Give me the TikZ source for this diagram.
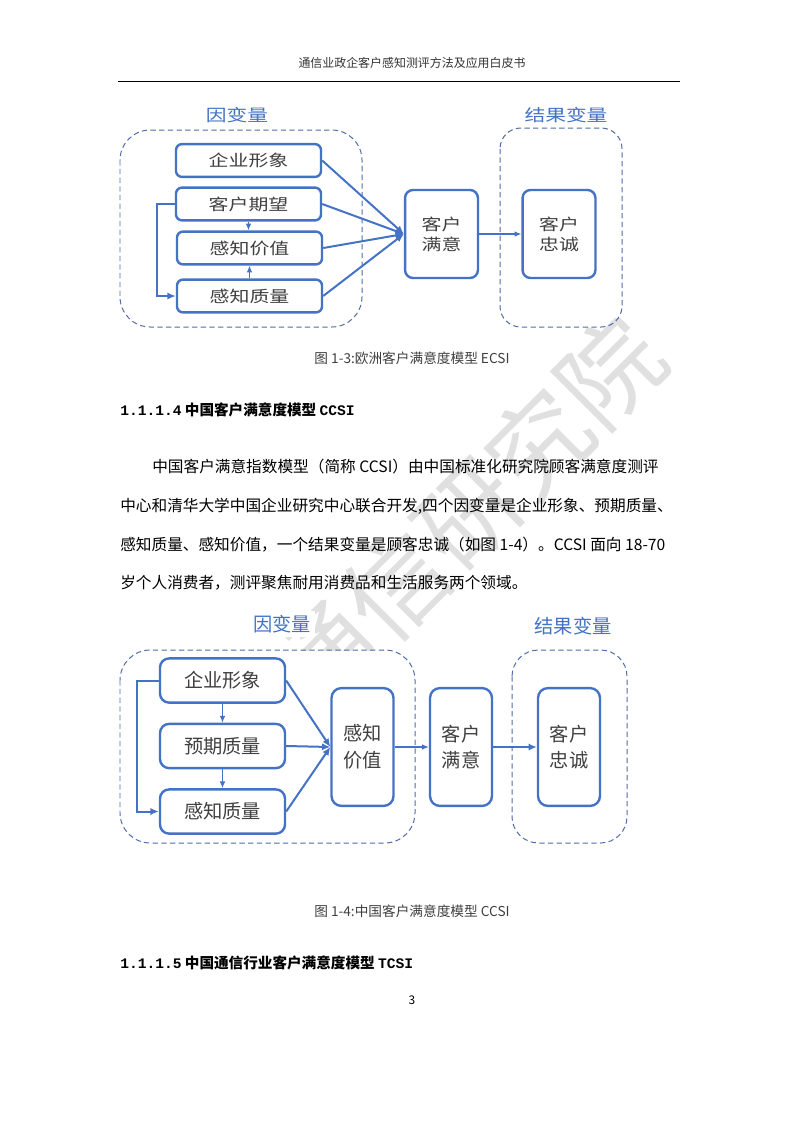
\documentclass[tikz,border=0pt]{standalone}
\usepackage{fontspec}
\setmainfont{Noto Sans CJK SC}
\setmonofont{Liberation Mono}
\newfontfamily\widecjk[FakeStretch=1.25]{Noto Sans CJK SC}
\usetikzlibrary{arrows.meta,positioning,calc}
\definecolor{boxblue}{RGB}{68,114,196}
\definecolor{dashblue}{RGB}{82,108,168}
\XeTeXlinebreaklocale "zh"
\XeTeXlinebreakskip=0pt plus 2pt

\begin{document}
\begin{tikzpicture}[x=0.2648mm,y=-0.2648mm,
  every node/.style={inner sep=0pt},
  fac/.style={draw=boxblue,line width=1.8pt,fill=white,text=black!75,align=center},
  eca/.style={fac,rounded corners=1.6mm,minimum width=38.4mm,minimum height=8.7mm,font=\widecjk\fontsize{12}{14}\selectfont},
  ecb/.style={fac,rounded corners=2.1mm,minimum width=19.3mm,minimum height=23.3mm,font=\widecjk\fontsize{12}{15}\selectfont},
  cca/.style={fac,rounded corners=2.4mm,minimum width=33.1mm,minimum height=11.7mm,font=\fontsize{14.5}{17}\selectfont},
  ccb/.style={fac,rounded corners=2.6mm,minimum width=16.4mm,minimum height=31.2mm,font=\fontsize{14.5}{20}\selectfont},
  grp/.style={draw=dashblue,line width=0.75pt,dash pattern=on 1.4mm off 0.9mm},
  lnk/.style={draw=boxblue,line width=1.5pt,-{Latex[length=2.2mm,width=1.9mm]}},
  tlnk/.style={draw=boxblue,line width=0.9pt,-{Latex[length=1.8mm,width=1.5mm]}},
  ttl/.style={text=boxblue,fill=white,inner sep=3pt},
  bodyln/.style={anchor=west,font=\fontsize{11.8}{14}\selectfont,align=justify},
  sechd/.style={anchor=west,font=\bfseries\fontsize{11}{13}\selectfont},
  capt/.style={text=black!75,font=\fontsize{10.3}{12}\selectfont}]
\path[use as bounding box,fill=white] (0,0) rectangle (793,1122);

% watermark
\node[anchor=east,rotate=45,text=black!12,font=\fontsize{76}{78}\selectfont] (wm) at (646,336) {通信研究院};

% page header
\node[font=\fontsize{9}{11}\selectfont,text=black!80] (hd) at (412,63) {通信业政企客户感知测评方法及应用白皮书};
\draw[line width=0.6pt] (118,81) -- (680,81);

% ECSI
\begin{scope}
\fill[white] (112,98) rectangle (632,318);
\draw[grp,rounded corners=8mm] (120,130) rectangle (362,327);
\draw[grp,rounded corners=5.5mm] (500,128) rectangle (622,327);
\node[ttl,font=\widecjk\fontsize{12.5}{14}\selectfont] (iv1) at (237,115) {因变量};
\node[ttl,font=\widecjk\fontsize{12.5}{14}\selectfont] (ov1) at (566,115) {结果变量};
\node[eca] (qx1) at (248.5,160.5) {企业形象};
\node[eca] (kq1) at (248.5,204) {客户期望};
\node[eca] (jz1) at (249.5,248) {感知价值};
\node[eca] (zl1) at (249.5,296) {感知质量};
\node[ecb] (my1) at (441.5,234) {客户\\满意};
\node[ecb] (zc1) at (559,234) {客户\\忠诚};
\draw[tlnk] (kq1.south) -- (kq1.south |- jz1.north);
\draw[tlnk] (zl1.north) -- (zl1.north |- jz1.south);
\draw[lnk] (kq1.west) -- ++(-18,0) |- (zl1.west);
\foreach \n in {qx1,kq1,jz1,zl1}
  \draw[lnk] (\n.east) -- (my1.west);
\draw[tlnk] (my1) -- (zc1);
\end{scope}
\node[capt] (c3) at (412,358) {图 1-3:欧洲客户满意度模型 ECSI};

% text
\node[sechd] (h4) at (120,410) {{\ttfamily 1.1.1.4} 中国客户满意度模型 {\ttfamily CCSI}};
\node[bodyln,text width=141.9mm] (p1) at (152,467) {\noindent\parfillskip=0pt 中国客户满意指数模型（简称 CCSI）由中国标准化研究院顾客满意度测评};
\node[bodyln,text width=150.4mm] (p2) at (120,506) {\noindent\parfillskip=0pt 中心和清华大学中国企业研究中心联合开发,四个因变量是企业形象、预期质量、};
\node[bodyln,text width=150.4mm] (p3) at (120,545) {\noindent\parfillskip=0pt 感知质量、感知价值，一个结果变量是顾客忠诚（如图 1-4）。CCSI 面向 18-70};
\node[anchor=west,font=\fontsize{11.8}{14}\selectfont] (p4) at (120,583) {岁个人消费者，测评聚焦耐用消费品和生活服务两个领域。};

% CCSI
\begin{scope}
\fill[white] (112,651) rectangle (640,850);
\draw[grp,rounded corners=8mm] (120,650) rectangle (415,843);
\draw[grp,rounded corners=7mm] (512,650) rectangle (627,843);
\node[ttl,font=\fontsize{14.5}{17}\selectfont] (iv2) at (282,624) {因变量};
\node[ttl,font=\fontsize{14.5}{17}\selectfont] (ov2) at (573,626) {结果变量};
\node[cca] (qx2) at (222.5,680.5) {企业形象};
\node[cca] (yq2) at (222.5,746) {预期质量};
\node[cca] (zl2) at (222.5,811.5) {感知质量};
\node[ccb] (jz2) at (362.5,747) {感知\\价值};
\node[ccb] (my2) at (461,747) {客户\\满意};
\node[ccb] (zc2) at (569,747) {客户\\忠诚};
\draw[tlnk] (qx2) -- (yq2);
\draw[tlnk] (yq2) -- (zl2);
\draw[lnk] (qx2.west) -- ++(-22,0) |- (zl2.west);
\foreach \n in {qx2,yq2,zl2}
  \draw[lnk] (\n.east) -- (jz2.west);
\draw[tlnk] (jz2) -- (my2);
\draw[lnk] (my2) -- (zc2);
\end{scope}
\node[capt] (c4) at (412,911) {图 1-4:中国客户满意度模型 CCSI};

\node[sechd] (h5) at (120,963) {{\ttfamily 1.1.1.5} 中国通信行业客户满意度模型 {\ttfamily TCSI}};
\node[font=\fontsize{9}{11}\selectfont] (pg) at (412,1000) {3};
\end{tikzpicture}
\end{document}
